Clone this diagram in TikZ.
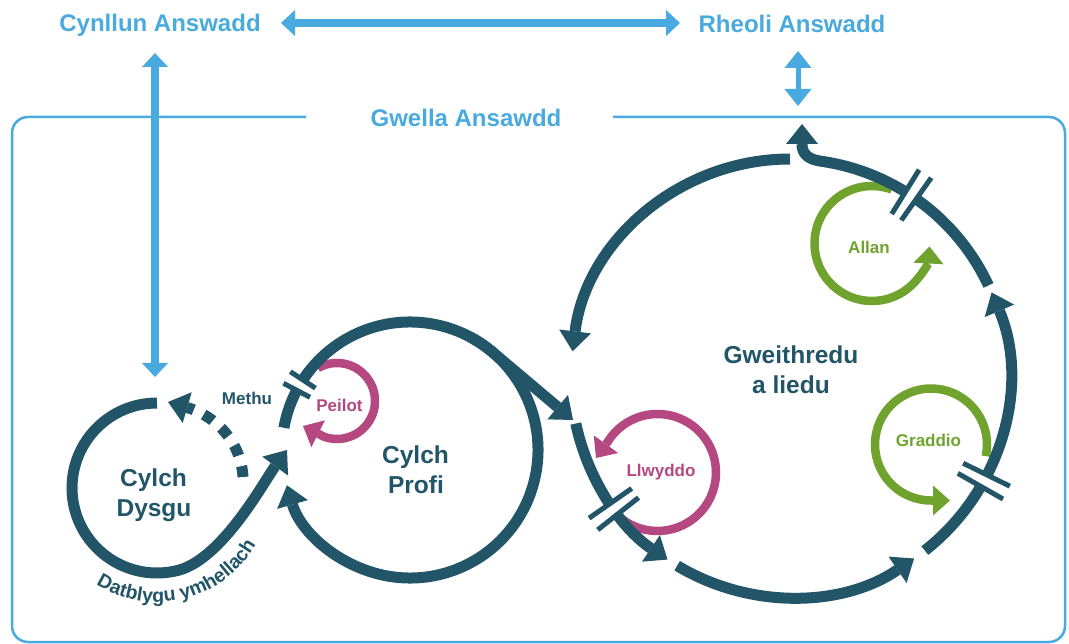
\documentclass[tikz,border=0pt]{standalone}
\usepackage{fontspec}
\setmainfont{Liberation Sans}
\usetikzlibrary{arrows.meta,decorations.text,calc}
\definecolor{dteal}{HTML}{225568}
\definecolor{mag}{HTML}{B54880}
\definecolor{grn}{HTML}{6FA32E}
\definecolor{blu}{HTML}{48AADE}
% centre, radius, angle, half length, half gap (deg)
\newcommand{\cutmark}[5]{%
  \draw[white, line width=14pt] ($(#1)+(#3-#5:#2)$) arc[start angle=#3-#5, end angle=#3+#5, radius=#2];
  \draw[dteal, line width=5pt] ($(#1)+(#3-#5:#2-#4)$) -- ($(#1)+(#3-#5:#2+#4)$);
  \draw[dteal, line width=5pt] ($(#1)+(#3+#5:#2-#4)$) -- ($(#1)+(#3+#5:#2+#4)$);}
\begin{document}
\begin{tikzpicture}[x=1pt,y=-1pt,
  ttl/.style={text=blu, font=\fontsize{24}{28}\selectfont\bfseries, inner sep=0pt, anchor=base},
  big/.style={text=dteal, font=\fontsize{24.5}{28}\selectfont\bfseries, inner sep=0pt, anchor=base},
  sml/.style={font=\fontsize{17}{20}\selectfont\bfseries, inner sep=0pt, anchor=base},
  dk/.style={draw=dteal, line width=11pt},
  dka/.style={dk, -{Triangle[width=32pt,length=20pt,line width=0pt]}},
  ring/.style={line width=8.5pt, -{Triangle[width=30pt,length=17pt,line width=0pt]}},
  barrow/.style={draw=blu, line width=7.5pt, {Triangle[width=26pt,length=14pt,line width=0pt]}-{Triangle[width=26pt,length=14pt,line width=0pt]}},
  sarrow/.style={draw=blu, line width=5pt, {Triangle[width=27pt,length=17pt,line width=0pt]}-{Triangle[width=27pt,length=17pt,line width=0pt]}},
  boxline/.style={draw=blu, line width=2.5pt, rounded corners=16pt}]
\useasboundingbox (0,0) rectangle (1069,644);

% titles
\node[ttl] (cyn) at (160,31.5) {Cynllun Answadd};
\node[ttl] (rhe) at (792,33) {Rheoli Answadd};
\node[ttl] (gwe) at (466,126.5) {Gwella Ansawdd};

% frame
\draw[boxline] (306,117) -- (12,117) -- (12,642) -- (1065,642) -- (1065,117) -- (613,117);

% blue arrows
\coordinate (hl) at (281,23); \coordinate (hr) at (680,23);
\draw[barrow] (hl) -- (hr);
\coordinate (vt) at (155,53); \coordinate (vb) at (155,377);
\draw[barrow] (vt) -- (vb);
\coordinate (st) at (798,51); \coordinate (sb) at (798,106);
\draw[sarrow] (st) -- (sb);

% small loops
\draw[ring, mag] ($(337,401)+(240:38)$) arc[start angle=240, end angle=470, radius=38] -- (303,426);
\draw[ring, grn] ($(872,243.5)+(-70:57.5)$) arc[start angle=-70, end angle=-357, radius=57.5];
\draw[ring, grn] ($(931,444.5)+(12:56)$) arc[start angle=12, end angle=-270, radius=56] -- (950,500.5);
\draw[ring, mag] ($(657.5,472.5)+(126:58.5)$) arc[start angle=126, end angle=-148, radius=58.5] -- (596,458);

% Cylch Dysgu
\draw[dka] ($(157,488)+(270:85)$) arc[start angle=270, end angle=75, radius=85] .. controls (223,558) and (265,480) .. (287,450);
\draw[dka, dash pattern=on 11pt off 11pt] (243,477) .. controls (241,442) and (216,416) .. (168,402);

% Cylch Profi
\draw[dka] ($(410,450)+(190:128)$) arc[start angle=190, end angle=524, radius=128];
\draw[dka] ($(410,450)+(-62:128)$) arc[start angle=-62, end angle=-50, radius=128] -- (573,420);

% Gweithredu circle
\draw[dka] ($(790,378)+(270:219)$) arc[start angle=270, end angle=187, radius=219];
\draw[dka] ($(790,378)+(168:219)$) arc[start angle=168, end angle=124, radius=219];
\draw[dka] ($(790,378)+(121:219)$) arc[start angle=121, end angle=55.5, radius=219];
\draw[dka] ($(790,378)+(52:219)$) arc[start angle=52, end angle=-23, radius=219];
\draw[dka] ($(790,378)+(-25:219)$) arc[start angle=-25, end angle=-82, radius=219] .. controls (806,159) and (802,152) .. (802,124);

% break marks
\cutmark{410,450}{128}{210.5}{15}{2.7}
\cutmark{790,378}{219}{143.4}{26}{1.7}
\cutmark{790,378}{219}{27.9}{26}{1.7}
\cutmark{790,378}{219}{-56.5}{26}{1.7}

% labels
\node[big] (dy1) at (153.5,486.7) {Cylch};
\node[big] (dy2) at (154,516.7) {Dysgu};
\node[big] (pr1) at (415.5,463.3) {Cylch};
\node[big] (pr2) at (416,493.3) {Profi};
\node[big] (gw1) at (791,363.3) {Gweithredu};
\node[big] (gw2) at (791,393.3) {a liedu};
\node[sml, text=dteal] (met) at (247,405) {Methu};
\node[sml, text=mag] (pei) at (339.5,411.7) {Peilot};
\node[sml, text=mag] (llw) at (661,476.7) {Llwyddo};
\node[sml, text=grn] (all) at (869,253.3) {Allan};
\node[sml, text=grn] (gra) at (928.5,446.7) {Graddio};
\path[decorate, decoration={text along path, text={|\fontsize{19.5}{20}\selectfont\bfseries|Datblygu ymhellach}, text align=center, text color=dteal}]
  ($(157,488)+(150:114)$) arc[start angle=150, end angle=2, radius=114];
\end{tikzpicture}
\end{document}
